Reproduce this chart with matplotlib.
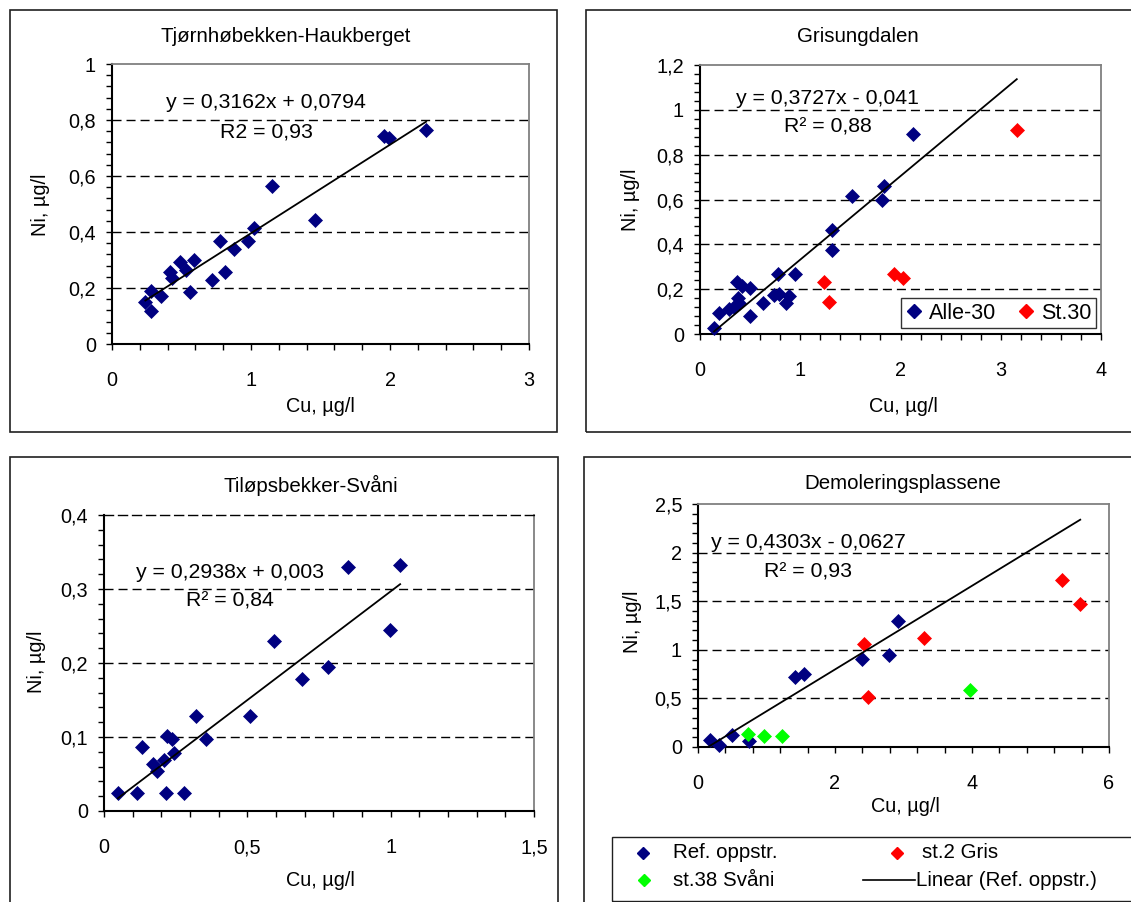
import numpy as np
import matplotlib
matplotlib.use('Agg')
import matplotlib.pyplot as plt
from matplotlib.ticker import MultipleLocator, FuncFormatter
from matplotlib.patches import Rectangle
from matplotlib.lines import Line2D

plt.rcParams['font.family'] = ['Liberation Sans', 'DejaVu Sans']

# ---------------- data ----------------
# Panel 1: Tjørnhøbekken-Haukberget
p1_cu = [0.24, 0.28, 0.28, 0.35, 0.42, 0.43, 0.49, 0.53, 0.56, 0.59, 0.72, 0.78, 0.81,
         0.88, 0.98, 1.02, 1.15, 1.46, 1.96, 1.99, 2.26]
p1_ni = [0.150, 0.188, 0.119, 0.170, 0.256, 0.236, 0.293, 0.265, 0.185, 0.301, 0.230,
         0.367, 0.257, 0.340, 0.369, 0.414, 0.565, 0.442, 0.744, 0.736, 0.765]
p1_fit = (0.3162, 0.0794)
p1_fit_x = [0.24, 2.26]

# Panel 2: Grisungdalen
p2_alle_cu = [0.14, 0.19, 0.29, 0.34, 0.38, 0.39, 0.37, 0.42, 0.50, 0.50, 0.63, 0.74,
              0.79, 0.78, 0.86, 0.89, 0.95, 1.32, 1.32, 1.52, 1.84, 1.82, 2.12]
p2_alle_ni = [0.025, 0.095, 0.110, 0.122, 0.160, 0.137, 0.234, 0.214, 0.204, 0.082,
              0.140, 0.174, 0.177, 0.268, 0.140, 0.170, 0.267, 0.462, 0.374, 0.614,
              0.661, 0.596, 0.892]
p2_st30_cu = [1.24, 1.29, 1.94, 2.02, 3.16]
p2_st30_ni = [0.231, 0.141, 0.268, 0.249, 0.911]
p2_fit = (0.3727, -0.041)
p2_fit_x = [0.14, 3.16]

# Panel 3: Tiløpsbekker-Svåni
p3_cu = [0.048, 0.114, 0.131, 0.172, 0.184, 0.209, 0.221, 0.238, 0.244, 0.216, 0.280,
         0.321, 0.356, 0.509, 0.592, 0.691, 0.780, 0.851, 0.998, 1.033]
p3_ni = [0.024, 0.024, 0.087, 0.063, 0.054, 0.069, 0.101, 0.097, 0.078, 0.024, 0.024,
         0.129, 0.097, 0.129, 0.230, 0.178, 0.195, 0.330, 0.244, 0.333]
p3_fit = (0.2938, 0.003)
p3_fit_x = [0.048, 1.033]

# Panel 4: Demoleringsplassene
p4_ref_cu = [0.17, 0.31, 0.50, 0.75, 1.42, 1.55, 2.39, 2.79, 2.92]
p4_ref_ni = [0.076, 0.017, 0.127, 0.062, 0.722, 0.746, 0.904, 0.945, 1.296]
p4_gris_cu = [2.42, 2.48, 3.30, 5.31, 5.57]
p4_gris_ni = [1.058, 0.515, 1.117, 1.718, 1.467]
p4_svani_cu = [0.73, 0.96, 1.23, 3.97]
p4_svani_ni = [0.137, 0.110, 0.110, 0.584]
p4_fit = (0.4303, -0.0627)
p4_fit_x = [0.17, 5.58]

titles = ["Tjørnhøbekken-Haukberget", "Grisungdalen", "Tiløpsbekker-Svåni", "Demoleringsplassene"]
eq_texts = ["y = 0,3162x + 0,0794", "y = 0,3727x - 0,041", "y = 0,2938x + 0,003", "y = 0,4303x - 0,0627"]
r2_texts = ["R2 = 0,93", "R² = 0,88", "R² = 0,84", "R² = 0,93"]
xlabel = "Cu, µg/l"
ylabel = "Ni, µg/l"

BLUE = '#000080'
RED = '#FF0000'
GREEN = '#00FF00'

# ---------------- layout ----------------
W, H = 1131, 902
fig = plt.figure(figsize=(W / 100, H / 100), dpi=100)


def frect(x0, x1, yt, yb):
    return [x0 / W, 1 - yb / H, (x1 - x0) / W, (yb - yt) / H]


def fx(px):
    return px / W


def fy(py):
    return 1 - py / H


def fmt(v, pos):
    return f"{round(v, 4):g}".replace('.', ',')


# panel outer frames
for (x0, y0, x1, y1) in [(10, 10, 557, 432), (586, 10, 1140, 432),
                         (10, 457, 558, 910), (584, 457, 1140, 910)]:
    fig.add_artist(Rectangle((fx(x0), fy(y1)), fx(x1 - x0), (y1 - y0) / H,
                             fill=False, edgecolor='#202020', lw=1.2,
                             transform=fig.transFigure))

TICK_FS = 14.3
TITLE_FS = 14.8
EQ_FS = 15.3
DASH = (6.5, 3.6)
MS = 7.4


def style(ax, xmax, xmaj, xmin, ymax, ymaj, ymin, top_dashed=False):
    ax.set_xlim(0, xmax)
    ax.set_ylim(0, ymax)
    ax.xaxis.set_major_locator(MultipleLocator(xmaj))
    ax.xaxis.set_minor_locator(MultipleLocator(xmin))
    ax.yaxis.set_major_locator(MultipleLocator(ymaj))
    ax.yaxis.set_minor_locator(MultipleLocator(ymin))
    ax.xaxis.set_major_formatter(FuncFormatter(fmt))
    ax.yaxis.set_major_formatter(FuncFormatter(fmt))
    ax.tick_params(which='both', direction='out', length=4.5, width=1, color='black',
                   labelsize=TICK_FS)
    ax.tick_params(axis='x', which='major', pad=15)
    ax.tick_params(axis='y', which='major', pad=7)
    for s in ['left', 'bottom']:
        ax.spines[s].set_color('black')
        ax.spines[s].set_linewidth(1.5)
    for s in ['top', 'right']:
        ax.spines[s].set_color('#808080')
        ax.spines[s].set_linewidth(1.3)
    if top_dashed:
        ax.spines['top'].set_color('black')
        ax.spines['top'].set_linewidth(1.0)
        ax.spines['top'].set_linestyle((0, DASH))
    n = int(round(ymax / ymaj))
    for i in range(1, n):
        ax.axhline(i * ymaj, color='black', lw=1.0, dashes=DASH, zorder=1)


def scatter(ax, x, y, c):
    ax.plot(x, y, linestyle='none', marker='D', ms=MS, mfc=c, mec=c, mew=0.5,
            zorder=3, clip_on=False)


def trend(ax, coef, xr):
    xs = np.array(xr)
    ax.plot(xs, coef[0] * xs + coef[1], color='black', lw=1.3, zorder=4)


def labels(ax, title, title_xy, xlab_xy, ylab_xy):
    fig.text(fx(title_xy[0]), fy(title_xy[1]), title, ha='center', va='center', fontsize=TITLE_FS)
    fig.text(fx(xlab_xy[0]), fy(xlab_xy[1]), xlabel, ha='center', va='center', fontsize=TICK_FS)
    fig.text(fx(ylab_xy[0]), fy(ylab_xy[1]), ylabel, ha='center', va='center',
             fontsize=TICK_FS, rotation=90)


def eq(ax, i, xy1, xy2):
    fig.text(fx(xy1[0]), fy(xy1[1]), eq_texts[i], ha='center', va='center', fontsize=EQ_FS, zorder=5)
    fig.text(fx(xy2[0]), fy(xy2[1]), r2_texts[i], ha='center', va='center', fontsize=EQ_FS, zorder=5)


# Panel 1
ax1 = fig.add_axes(frect(112, 529, 64, 344))
style(ax1, 3, 1, 0.2, 1, 0.2, 0.04)
scatter(ax1, p1_cu, p1_ni, BLUE)
trend(ax1, p1_fit, p1_fit_x)
labels(ax1, titles[0], (286, 37), (320, 406), (40, 205))
eq(ax1, 0, (266, 102), (266, 132))

# Panel 2
ax2 = fig.add_axes(frect(700, 1101, 65, 334))
style(ax2, 4, 1, 0.2, 1.2, 0.2, 0.04)
scatter(ax2, p2_alle_cu, p2_alle_ni, BLUE)
scatter(ax2, p2_st30_cu, p2_st30_ni, RED)
trend(ax2, p2_fit, p2_fit_x)
labels(ax2, titles[1], (858, 37), (903, 406), (630, 200))
eq(ax2, 1, (827, 98), (828, 127))
h_a = Line2D([], [], linestyle='none', marker='D', ms=MS, mfc=BLUE, mec=BLUE)
h_s = Line2D([], [], linestyle='none', marker='D', ms=MS, mfc=RED, mec=RED)
leg = ax2.legend([h_a, h_s], ["Alle-30", "St.30"], ncol=2, loc='lower right',
                 bbox_to_anchor=((1096 - 700) / 401, (334 - 328) / 269), borderaxespad=0,
                 fontsize=15.5, frameon=True, fancybox=False, handlelength=0.8,
                 handletextpad=0.3, columnspacing=1.0, borderpad=0.2)
leg.get_frame().set_edgecolor('black')
leg.get_frame().set_linewidth(1.0)
leg.set_zorder(6)

# Panel 3
ax3 = fig.add_axes(frect(104, 534, 515, 811))
style(ax3, 1.5, 0.5, 0.1, 0.4, 0.1, 0.02, top_dashed=True)
scatter(ax3, p3_cu, p3_ni, BLUE)
trend(ax3, p3_fit, p3_fit_x)
labels(ax3, titles[2], (311, 485), (320, 881), (36, 662))
eq(ax3, 2, (230, 572), (230, 601))

# Panel 4
ax4 = fig.add_axes(frect(698, 1109, 504, 747))
style(ax4, 6, 2, 0.4, 2.5, 0.5, 0.1)
scatter(ax4, p4_ref_cu, p4_ref_ni, BLUE)
scatter(ax4, p4_gris_cu, p4_gris_ni, RED)
scatter(ax4, p4_svani_cu, p4_svani_ni, GREEN)
trend(ax4, p4_fit, p4_fit_x)
labels(ax4, titles[3], (903, 483), (905, 806), (633, 622))
eq(ax4, 3, (808, 542), (808, 572))

# Bottom legend (manual)
fig.add_artist(Rectangle((fx(612), fy(901)), fx(1140 - 612), (901 - 837) / H, fill=False,
                         edgecolor='#202020', lw=1.0, transform=fig.transFigure))
for (mx, my, c) in [(643, 853, BLUE), (644, 880, GREEN), (897, 853, RED)]:
    fig.add_artist(Line2D([fx(mx)], [fy(my)], linestyle='none', marker='D', ms=6.0,
                          mfc=c, mec=c, transform=fig.transFigure))
fig.add_artist(Line2D([fx(863), fx(915)], [fy(880), fy(880)], color='black', lw=1.2,
                      transform=fig.transFigure))
leg_fs = 14.8
fig.text(fx(673), fy(853), "Ref. oppstr.", ha='left', va='center', fontsize=leg_fs)
fig.text(fx(673), fy(880), "st.38 Svåni", ha='left', va='center', fontsize=leg_fs)
fig.text(fx(922), fy(853), "st.2 Gris", ha='left', va='center', fontsize=leg_fs)
fig.text(fx(916), fy(880), "Linear (Ref. oppstr.)", ha='left', va='center', fontsize=leg_fs)

fig.savefig('out.png', dpi=100)
